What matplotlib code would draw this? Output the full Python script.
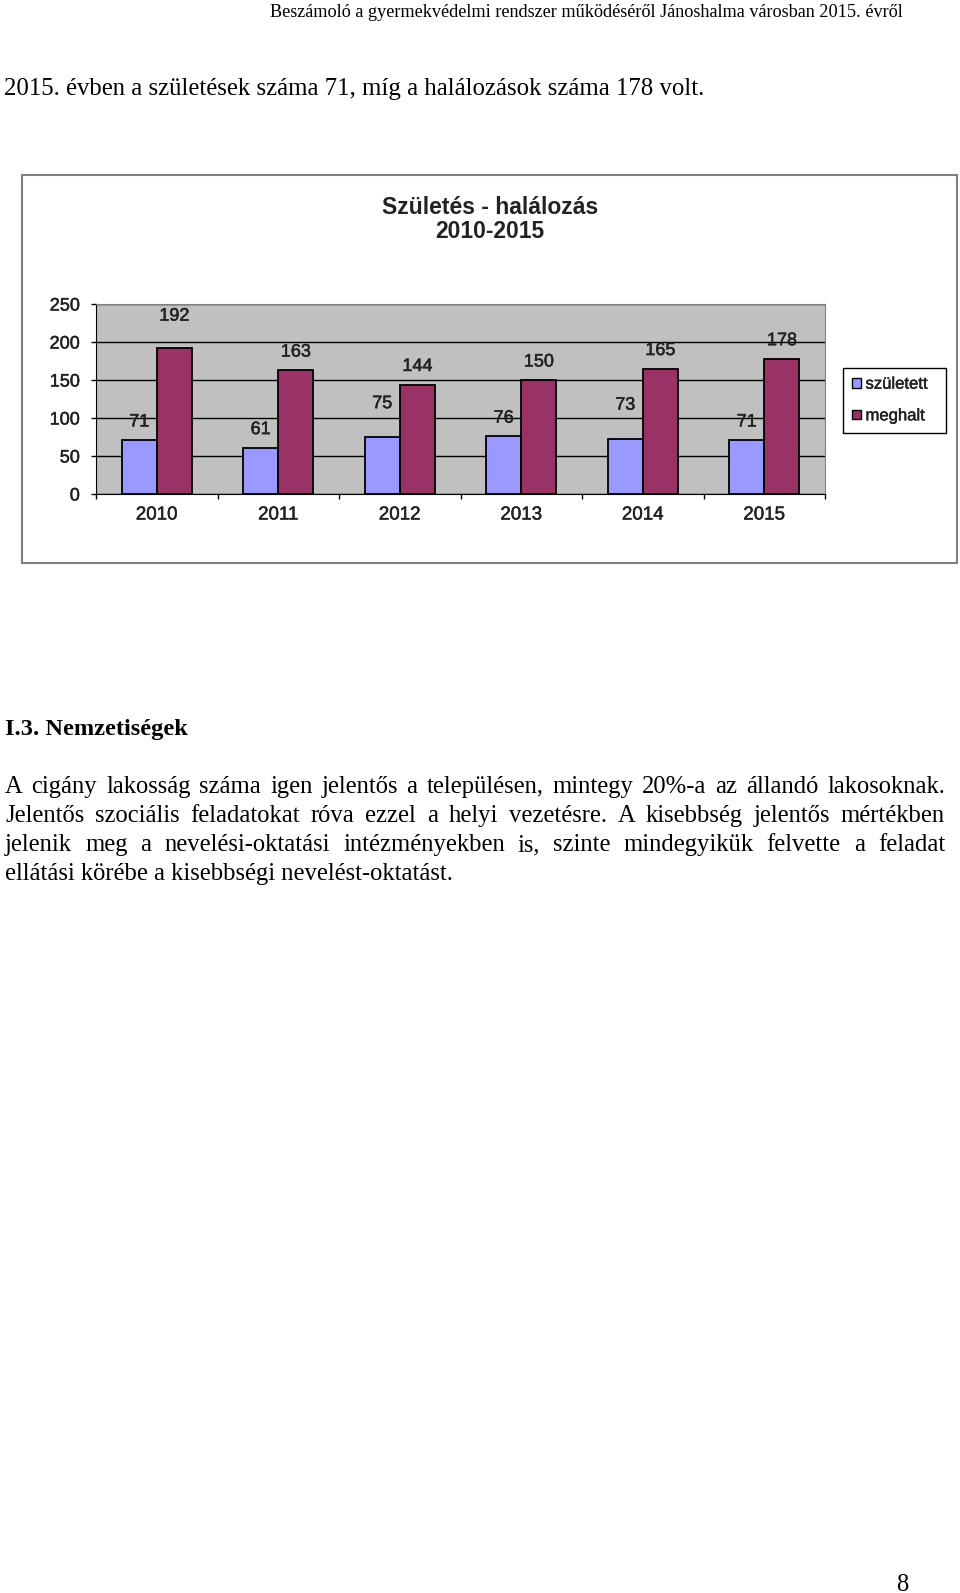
import numpy as np
import matplotlib.pyplot as plt
import matplotlib.patheffects as pe
from matplotlib.patches import Rectangle, Patch

# page size in pixels
W, H = 960, 1593
DPI = 100

# chart data
years = ['2010', '2011', '2012', '2013', '2014', '2015']
born = [71, 61, 75, 76, 73, 71]
died = [192, 163, 144, 150, 165, 178]
series_names = ['született', 'meghalt']
yticks = [0, 50, 100, 150, 200, 250]
chart_title = ['Születés - halálozás', '2010-2015']

# page text
header = 'Beszámoló a gyermekvédelmi rendszer működéséről Jánoshalma városban 2015. évről'
intro = '2015. évben a születések száma 71, míg a halálozások száma 178 volt.'
heading = 'I.3. Nemzetiségek'
para_lines = [
    'A cigány lakosság száma igen jelentős a településen, mintegy 20%-a az állandó lakosoknak.',
    'Jelentős szociális feladatokat róva ezzel a helyi vezetésre. A kisebbség jelentős mértékben',
    'jelenik meg a nevelési-oktatási intézményekben is, szinte mindegyikük felvette a feladat',
    'ellátási körébe a kisebbségi nevelést-oktatást.',
]
page_no = '8'

BLUE = '#9999FF'
PLUM = '#993366'
INK = '#222222'
SERIF = 'Liberation Serif'
SANS = 'Liberation Sans'
# the chart is a blurry bitmap in the original, text looks a bit heavier
heavy = [pe.withStroke(linewidth=0.35, foreground=INK)]

fig = plt.figure(figsize=(W / DPI, H / DPI), dpi=DPI)
fig.patch.set_facecolor('white')
renderer = fig.canvas.get_renderer()


def px(x, y):
    # pixel coords (top-left origin) -> figure fraction
    return x / W, 1 - y / H


def width_of(s, size, **kw):
    t = fig.text(0, 0, s, fontsize=size, **kw)
    w = t.get_window_extent(renderer).width
    t.remove()
    return w


def fit_size(s, width, **kw):
    return 10 * width / width_of(s, 10, **kw)


def put_fitted(s, x0, x1, base, **kw):
    size = fit_size(s, x1 - x0, **kw)
    fig.text(*px(x0, base), s, fontsize=size, va='baseline', **kw)


# ---- page text ----
put_fitted(header, 270, 906, 17, family=SERIF)
put_fitted(intro, 4, 704, 95, family=SERIF)
put_fitted(heading, 5, 188, 735, family=SERIF, fontweight='bold')

para_base = [793, 822, 851, 880]
left, right = 5, 945
psize = fit_size(para_lines[-1], 454 - 5, family=SERIF)
for i, (line, base) in enumerate(zip(para_lines, para_base)):
    if i == len(para_lines) - 1:
        fig.text(*px(left, base), line, fontsize=psize, family=SERIF, va='baseline')
        continue
    words = line.split()
    widths = [width_of(w, psize, family=SERIF) for w in words]
    gap = (right - left - sum(widths)) / (len(words) - 1)
    x = left
    for word, wd in zip(words, widths):
        fig.text(*px(x, base), word, fontsize=psize, family=SERIF, va='baseline')
        x += wd + gap

fig.text(*px(896, 1591), page_no, fontsize=psize, family=SERIF, va='baseline')

# ---- chart ----
frame = Rectangle(px(22, 563), (957 - 22) / W, (563 - 175) / H, transform=fig.transFigure,
                  facecolor='white', edgecolor='#808080', lw=1.5, zorder=0)
fig.add_artist(frame)

fig.text(*px(490, 208), chart_title[0], ha='center', va='center', family=SANS,
         fontweight='bold', fontsize=16.5, color=INK)
fig.text(*px(490, 232), chart_title[1], ha='center', va='center', family=SANS,
         fontweight='bold', fontsize=16.5, color=INK)

ax = fig.add_axes([96 / W, 1 - 494 / H, (825 - 96) / W, (494 - 304) / H])
ax.set_facecolor('#C0C0C0')
ax.set_axisbelow(True)
ax.yaxis.grid(True, color='black', lw=1)

x = np.arange(len(years))
bw = 0.29
ax.bar(x - bw / 2, born, bw, color=BLUE, edgecolor='black', lw=1.3, label=series_names[0])
ax.bar(x + bw / 2, died, bw, color=PLUM, edgecolor='black', lw=1.3, label=series_names[1])

# Excel pushed a few labels higher than the rest
lift_born = [13, 13, 24, 13, 24, 13]
lift_died = [23, 13, 13, 13, 13, 13]
for xi, v, lf in zip(x - bw / 2, born, lift_born):
    ax.annotate(str(v), (xi, v), xytext=(0, lf), textcoords='offset points',
                ha='center', va='center', fontsize=13, family=SANS, color=INK,
                path_effects=heavy)
for xi, v, lf in zip(x + bw / 2, died, lift_died):
    ax.annotate(str(v), (xi, v), xytext=(0, lf), textcoords='offset points',
                ha='center', va='center', fontsize=13, family=SANS, color=INK,
                path_effects=heavy)

ax.set_xlim(-0.5, len(years) - 0.5)
ax.set_ylim(0, 250)
ax.set_yticks(yticks)
ax.tick_params(axis='y', length=3.6, width=1, direction='out', pad=8, labelsize=13,
               labelcolor=INK)
ax.set_xticks(np.arange(len(years) + 1) - 0.5)
ax.set_xticklabels([])
ax.set_xticks(x, minor=True)
ax.set_xticklabels(years, minor=True)
ax.tick_params(axis='x', which='major', length=3.6, width=1, direction='out')
ax.tick_params(axis='x', which='minor', length=0, pad=9, labelsize=13.5, labelcolor=INK)
for lbl in ax.get_xticklabels(minor=True) + ax.get_yticklabels():
    lbl.set_family(SANS)
    lbl.set_path_effects(heavy)

for s in ['top', 'right']:
    ax.spines[s].set_color('#808080')
ax.spines['left'].set_color('black')
ax.spines['bottom'].set_color('black')

handles = [Patch(facecolor=BLUE, edgecolor='black', lw=1),
           Patch(facecolor=PLUM, edgecolor='black', lw=1)]
leg = fig.legend(handles, series_names, loc='center', mode='expand',
                 bbox_to_anchor=(843 / W, 1 - 432 / H, (946 - 843) / W, (432 - 368) / H),
                 bbox_transform=fig.transFigure, prop={'family': SANS, 'size': 12},
                 fancybox=False, framealpha=1, edgecolor='black', handlelength=0.5,
                 handleheight=0.5, handletextpad=0.3, labelspacing=1.0, borderpad=0.55,
                 borderaxespad=0)
leg.get_frame().set_linewidth(1)
for t in leg.get_texts():
    t.set_color(INK)
    t.set_path_effects(heavy)

fig.savefig('out.png', dpi=DPI)
